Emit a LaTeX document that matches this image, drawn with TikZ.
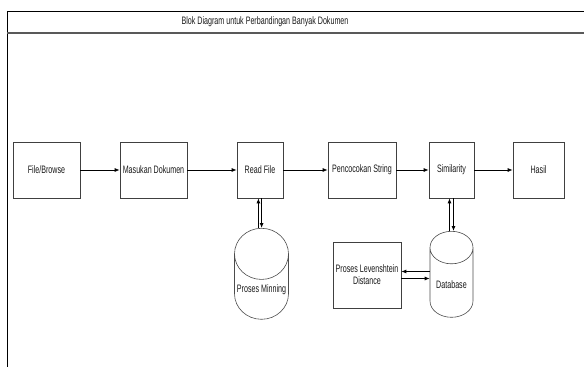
\documentclass[tikz,border=0pt]{standalone}
\usepackage{fontspec}
\setmainfont{Liberation Sans}[FakeStretch=0.66]
\usetikzlibrary{shapes.geometric,arrows.meta}

\tikzset{
  blok/.style={draw=black!75, line width=0.7pt, minimum height=56pt, align=center, inner sep=1pt},
  tabung/.style={draw=black!70, line width=0.6pt, cylinder, shape border rotate=90, aspect=1.0, inner sep=1pt, anchor=north, align=center},
  panah/.style={-{Latex[length=5pt,width=4pt]}, line width=0.8pt},
}

\begin{document}
\begin{tikzpicture}[x=1pt, y=-1pt, font=\fontsize{10.8}{12}\selectfont, text=black!90]
\useasboundingbox (0,0) rectangle (584,367);
% bingkai
\draw[line width=0.6pt] (7,367) -- (7,11) -- (584,11);
\draw[line width=1.1pt, black!65] (7,33) -- (584,33);
\node (judul) at (265,22) {Blok Diagram untuk Perbandingan Banyak Dokumen};

% alur utama
\node[blok, minimum width=67pt] (browse) at (46.5,170) {File/Browse};
\node[blok, minimum width=67pt] (masukan) at (153.5,170) {Masukan Dokumen};
\node[blok, minimum width=46pt] (readfile) at (260,170) {Read File};
\node[blok, minimum width=68pt] (pencocokan) at (362,170) {Pencocokan String};
\node[blok, minimum width=45pt] (similarity) at (451.5,170) {Similarity};
\node[blok, minimum width=51pt] (hasil) at (538.5,170) {Hasil};

\draw[panah] (browse) -- (masukan);
\draw[panah] (masukan) -- (readfile);
\draw[panah] (readfile) -- (pencocokan);
\draw[panah] (pencocokan) -- (similarity);
\draw[panah] (similarity) -- (hasil);

% penyimpanan
\node[tabung, minimum width=54pt, minimum height=91pt] (minning) at (261.5,228) {Proses Minning};
\node[tabung, minimum width=43pt, minimum height=86pt] (database) at (451.5,231) {Database};
\node[blok, minimum width=68pt, minimum height=66pt] (levenshtein) at (367,275) {Proses Levenshtein\\Distance};

\draw[panah] ([xshift=1.6pt]readfile.south) -- ([xshift=1.6pt]readfile.south |- minning.north);
\draw[panah] ([xshift=-1.6pt]readfile.south |- minning.north) -- ([xshift=-1.6pt]readfile.south);
\draw[panah] ([xshift=2pt]similarity.south) -- ([xshift=2pt]similarity.south |- database.north);
\draw[panah] ([xshift=-2pt]similarity.south |- database.north) -- ([xshift=-2pt]similarity.south);
\draw[panah] ([yshift=-3.5pt]levenshtein.east) -- ([yshift=-3.5pt]levenshtein.east -| database.west);
\draw[panah] ([yshift=3.5pt]levenshtein.east -| database.west) -- ([yshift=3.5pt]levenshtein.east);
\end{tikzpicture}
\end{document}
